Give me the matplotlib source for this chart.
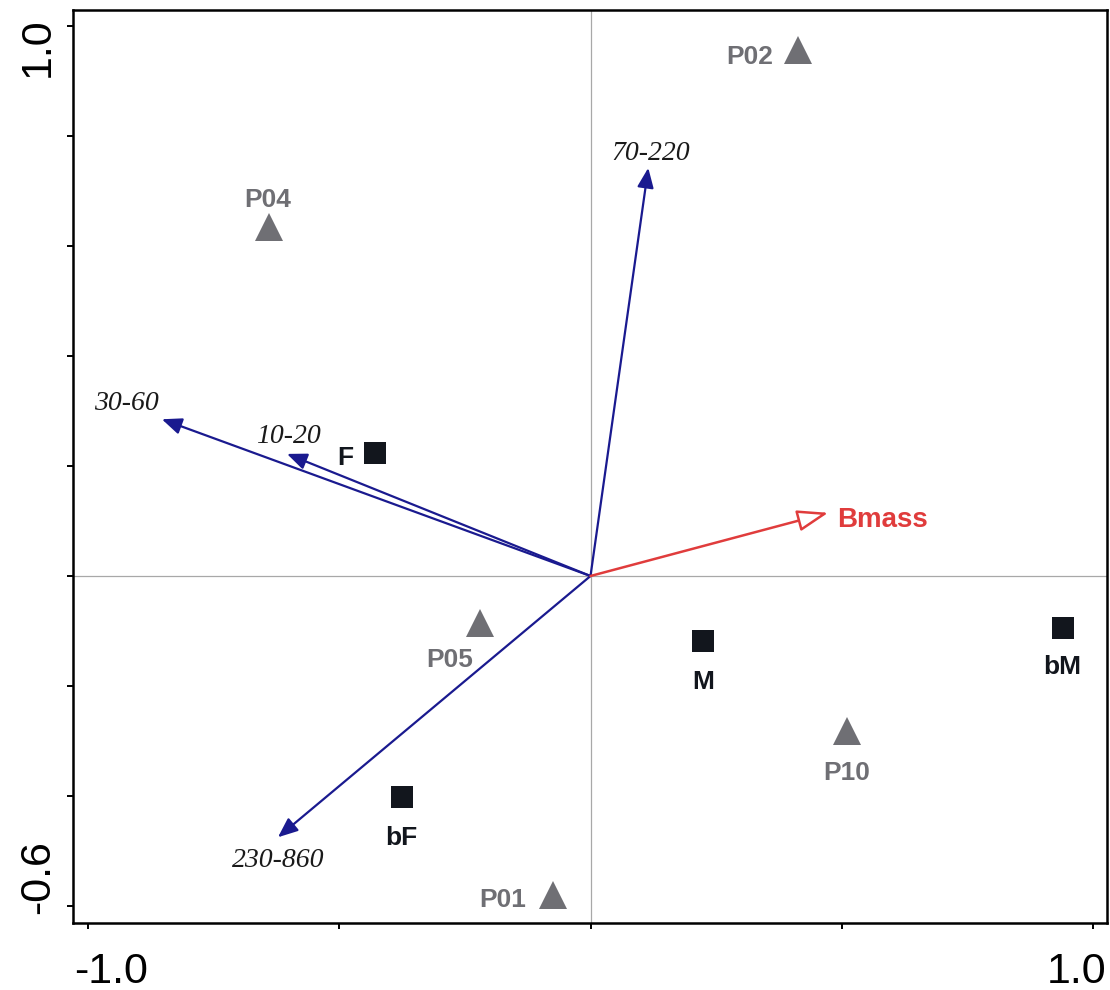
import matplotlib
matplotlib.use('Agg')
import matplotlib.pyplot as plt

# ---------------- data ----------------
site_labels = ['P01', 'P02', 'P04', 'P05', 'P10']
site_x = [-0.075, 0.413, -0.640, -0.220, 0.510]
site_y = [-0.580, 0.956, 0.635, -0.085, -0.282]

group_labels = ['F', 'M', 'bF', 'bM']
group_x = [-0.428, 0.224, -0.376, 0.940]
group_y = [0.224, -0.119, -0.402, -0.095]

species_labels = ['70-220', '30-60', '10-20', '230-860']
species_x = [0.115, -0.853, -0.604, -0.622]
species_y = [0.742, 0.285, 0.222, -0.475]

env_labels = ['Bmass']
env_x = [0.473]
env_y = [0.115]

x_ticks = [-1.0, -0.5, 0.0, 0.5, 1.0]
x_ticklabels = ['-1.0', '', '', '', '1.0']
y_ticks = [-0.6, -0.4, -0.2, 0.0, 0.2, 0.4, 0.6, 0.8, 1.0]
y_ticklabels = ['-0.6', '', '', '', '', '', '', '', '1.0']

# ---------------- style ----------------
DPI = 100
PX = 72.0 / DPI  # pixels -> points
SANS = 'Liberation Sans'
SERIF = 'Liberation Serif'
GRAY = '#6f6f74'
DARK = '#12161d'
NAVY = '#1a1a8f'
RED = '#e03c3c'

site_off = {'P01': (-50, -12), 'P02': (-48, -14), 'P04': (-1, 20),
            'P05': (-30, -44), 'P10': (0, -49)}
group_off = {'F': (-30, -12), 'M': (0, -48), 'bF': (0, -48), 'bM': (-1, -46)}
species_off = {'70-220': (2, 8), '30-60': (-35, 9), '10-20': (1, 11),
               '230-860': (0, -30)}
env_off = {'Bmass': (9, -14)}
xlab_off = {'-1.0': (23, -60), '1.0': (-16, -60)}
ylab_off = {'1.0': (-24, -21.5), '-0.6': (-24, 29)}

fig = plt.figure(figsize=(11.1, 9.9), dpi=DPI)
ax = fig.add_axes([73 / 1110, 67 / 990, (1107 - 73) / 1110, (980 - 67) / 990])
ax.set_xlim(-1.0299, 1.0279)
ax.set_ylim(-0.6309, 1.0291)

for s in ax.spines.values():
    s.set_linewidth(1.8)
    s.set_color('black')

ax.set_xticks(x_ticks)
ax.set_yticks(y_ticks)
ax.tick_params(direction='out', length=4.5, width=1.4, color='black',
               labelbottom=False, labelleft=False)

# zero lines
ax.axhline(0, color='#a8a8a8', lw=0.9, zorder=1)
ax.axvline(0, color='#a8a8a8', lw=0.9, zorder=1)

# species arrows
for lab, x, y in zip(species_labels, species_x, species_y):
    ax.annotate('', xy=(x, y), xytext=(0, 0),
                arrowprops=dict(arrowstyle='-|>,head_length=0.6,head_width=0.25',
                                color=NAVY, lw=1.6, shrinkA=0, shrinkB=0,
                                mutation_scale=20), zorder=3)
    dx, dy = species_off[lab]
    ax.annotate(lab, xy=(x, y), xytext=(dx * PX, dy * PX), textcoords='offset points',
                ha='center', va='baseline', fontsize=20, family=SERIF,
                style='italic', color='#1a1a1a', zorder=5)

# environmental arrow
for lab, x, y in zip(env_labels, env_x, env_y):
    ax.annotate('', xy=(x, y), xytext=(0, 0),
                arrowprops=dict(arrowstyle='-|>,head_length=0.95,head_width=0.33',
                                ec=RED, fc='white', lw=1.8, shrinkA=0, shrinkB=0,
                                mutation_scale=20), zorder=3)
    dx, dy = env_off[lab]
    ax.annotate(lab, xy=(x, y), xytext=(dx * PX, dy * PX), textcoords='offset points',
                ha='left', va='baseline', fontsize=20, family=SANS,
                fontweight='bold', color=RED, zorder=5)

# sites
ax.plot(site_x, site_y, linestyle='none', marker='^', markersize=20,
        color=GRAY, markeredgewidth=0, zorder=4)
for lab, x, y in zip(site_labels, site_x, site_y):
    dx, dy = site_off[lab]
    ax.annotate(lab, xy=(x, y), xytext=(dx * PX, dy * PX), textcoords='offset points',
                ha='center', va='baseline', fontsize=19, family=SANS,
                fontweight='bold', color=GRAY, zorder=5)

# groups
ax.plot(group_x, group_y, linestyle='none', marker='s', markersize=15.8,
        color=DARK, markeredgewidth=0, zorder=4)
for lab, x, y in zip(group_labels, group_x, group_y):
    dx, dy = group_off[lab]
    ax.annotate(lab, xy=(x, y), xytext=(dx * PX, dy * PX), textcoords='offset points',
                ha='center', va='baseline', fontsize=19, family=SANS,
                fontweight='bold', color=DARK, zorder=5)

# tick labels
for t, lab in zip(x_ticks, x_ticklabels):
    if lab:
        dx, dy = xlab_off[lab]
        ax.annotate(lab, xy=(t, 0), xycoords=('data', 'axes fraction'),
                    xytext=(dx * PX, dy * PX), textcoords='offset points',
                    ha='center', va='baseline', fontsize=31, family=SANS,
                    color='black', annotation_clip=False)
for t, lab in zip(y_ticks, y_ticklabels):
    if lab:
        dx, dy = ylab_off[lab]
        ax.annotate(lab, xy=(0, t), xycoords=('axes fraction', 'data'),
                    xytext=(dx * PX, dy * PX), textcoords='offset points',
                    ha='center', va='baseline', rotation=90, rotation_mode='anchor',
                    fontsize=31, family=SANS, color='black', annotation_clip=False)

fig.savefig('out.png', dpi=DPI)
